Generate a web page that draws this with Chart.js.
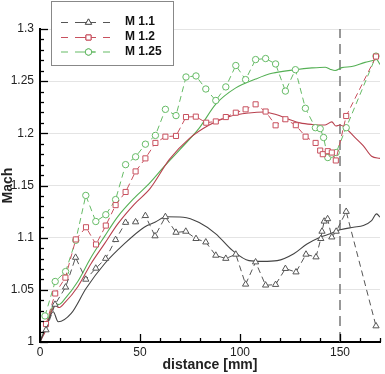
<!DOCTYPE html>
<html>
<head>
<meta charset="utf-8">
<script src="https://cdn.jsdelivr.net/npm/chart.js@4"></script>
<style>
  html, body { margin: 0; padding: 0; background: #fff; }
</style>
</head>
<body>
<canvas id="MachBox" width="385" height="374"></canvas>
<script>
        // experiment points (dashed + markers)
        const triDist = [3, 7.5, 12.8, 17.8, 22.9, 27.9, 32.8, 37.8, 42.8, 47.8, 52.7, 57.5, 62.7, 68, 72.9, 78, 82.9, 87.9, 92.9, 97.9, 102.8, 107.8, 112.8, 117.8, 122.7, 128, 133, 138, 140.4, 141, 142.1, 143.8, 145.9, 148.1, 153.1, 168];
        const triMach = [1.0115, 1.036, 1.0525, 1.081, 1.060, 1.0706, 1.080, 1.098, 1.1145, 1.115, 1.121, 1.1016, 1.120, 1.105, 1.106, 1.099, 1.0957, 1.083, 1.080, 1.084, 1.0553, 1.0766, 1.0544, 1.055, 1.0703, 1.067, 1.084, 1.0814, 1.099, 1.106, 1.1157, 1.118, 1.1005, 1.106, 1.125, 1.0153];

        const sqDist = [3, 7.6, 12.7, 17.9, 23, 28, 32.9, 37.8, 42.8, 47.8, 52.7, 57.7, 62.7, 68, 73, 77.9, 83.1, 87.9, 92.9, 97.9, 102.8, 107.8, 112.8, 117.8, 122.7, 127.9, 132.8, 137.8, 140.1, 141.4, 143.9, 145.9, 147.9, 153.1, 168];
        const sqMach = [1.0172, 1.0465, 1.0617, 1.0983, 1.110, 1.0935, 1.1116, 1.1312, 1.1438, 1.1635, 1.176, 1.1908, 1.1968, 1.1975, 1.2156, 1.216, 1.2102, 1.2114, 1.2156, 1.2198, 1.223, 1.2278, 1.2209, 1.2077, 1.2135, 1.2078, 1.1968, 1.1908, 1.1835, 1.180, 1.1829, 1.1816, 1.174, 1.2166, 1.2736];

        const cirDist = [2.5, 7.6, 12.8, 17.9, 22.9, 27.9, 32.9, 37.8, 42.8, 47.8, 52.7, 57.7, 62.7, 68, 73, 78, 82.9, 87.9, 92.9, 97.9, 102.8, 107.8, 112.8, 117.8, 122.7, 127.7, 132.7, 137.7, 140.1, 141.8, 143.9, 145.9, 148.1, 153.1, 168];
        const cirMach = [1.025, 1.058, 1.0675, 1.0975, 1.1405, 1.1155, 1.122, 1.1365, 1.170, 1.1775, 1.1896, 1.198, 1.223, 1.217, 1.254, 1.255, 1.2425, 1.2315, 1.2445, 1.265, 1.2515, 1.2707, 1.2717, 1.2665, 1.2405, 1.261, 1.224, 1.2054, 1.2045, 1.196, 1.1768, 1.180, 1.1816, 1.2054, 1.274];

        // computed curves (solid)
        const blackDist = [0, 3, 6.6, 9.1, 15.6, 23.1, 32.3, 42.1, 52.1, 57.7, 63, 71.6, 79.6, 87.9, 96.2, 104.5, 111.4, 118.6, 126.9, 133.5, 140.1, 145.1, 150.1, 156.7, 161.7, 165.8, 168.3, 170];
        const blackMach = [1.0, 1.014, 1.029, 1.0194, 1.0274, 1.0515, 1.075, 1.094, 1.110, 1.115, 1.120, 1.1196, 1.1145, 1.1037, 1.0878, 1.078, 1.0773, 1.078, 1.0846, 1.094, 1.1005, 1.1037, 1.1075, 1.110, 1.1116, 1.1164, 1.1228, 1.1196];

        const redDist = [0, 3, 5.5, 7.6, 9.5, 12.3, 18.9, 25.5, 32.2, 38.8, 47.1, 55, 64.7, 74.6, 84.6, 94.5, 104.5, 112, 118, 124.4, 130, 136, 142.6, 145.9, 148, 150, 152.6, 156.7, 161.7, 165.8, 170];
        const redMach = [1.0, 1.012, 1.028, 1.035, 1.033, 1.0375, 1.053, 1.075, 1.094, 1.113, 1.132, 1.147, 1.175, 1.195, 1.208, 1.216, 1.2195, 1.2205, 1.218, 1.2135, 1.210, 1.2085, 1.208, 1.211, 1.207, 1.208, 1.2054, 1.1975, 1.188, 1.178, 1.176];

        const greenDist = [0, 3, 5.5, 7.3, 9.5, 12.3, 18.9, 25.5, 32.2, 38.8, 47.1, 54.7, 62, 69.7, 79.6, 87.9, 97.9, 107.8, 116, 127.7, 136, 142.6, 145, 147.6, 150.9, 155.9, 162.5, 166, 168.3, 170];
        const greenMach = [1.0, 1.015, 1.03, 1.037, 1.036, 1.041, 1.058, 1.081, 1.101, 1.12, 1.138, 1.152, 1.168, 1.184, 1.205, 1.228, 1.2436, 1.252, 1.2575, 1.261, 1.2627, 1.2634, 1.2615, 1.2602, 1.263, 1.264, 1.268, 1.2695, 1.2707, 1.266];

        const shockDist = [150, 150];
        const shockMach = [1.0, 1.3];

        const xTicks = [0, 50, 100, 150];
        const yTicks = [1, 1.05, 1.1, 1.15, 1.2, 1.25, 1.3];

        const FONT = "'Liberation Sans', Arial, sans-serif";

        function pts(xs, ys) {
            return xs.map((v, i) => ({x: v, y: ys[i]}));
        }

        function dashed(label, xs, ys, color, style, r) {
            return {
                label: label,
                data: pts(xs, ys),
                borderColor: color,
                backgroundColor: '#fff',
                borderWidth: 1,
                borderDash: [6, 4],
                pointStyle: style,
                pointRadius: r,
                pointBorderWidth: 1,
                pointBackgroundColor: '#fff',
                pointBorderColor: color,
                tension: 0
            };
        }

        function solid(xs, ys, color) {
            return {
                label: '',
                data: pts(xs, ys),
                borderColor: color,
                borderWidth: 1.1,
                pointRadius: 0,
                cubicInterpolationMode: 'monotone'
            };
        }

        const MachData = {
            datasets: [
                dashed('M 1.1', triDist, triMach, '#555555', 'triangle', 3.6),
                dashed('M 1.2', sqDist, sqMach, '#c8505e', 'rect', 3.6),
                dashed('M 1.25', cirDist, cirMach, '#66bb66', 'circle', 3.2),
                solid(blackDist, blackMach, '#444444'),
                solid(redDist, redMach, '#b8404e'),
                solid(greenDist, greenMach, '#55b055'),
                {
                    label: '',
                    data: pts(shockDist, shockMach),
                    borderColor: '#777777',
                    borderWidth: 1.5,
                    borderDash: [10, 6],
                    pointRadius: 0
                }
            ]
        };

        // inside ticks + boxed legend
        const decor = {
            id: 'decor',
            afterDraw(chart) {
                const ctx = chart.ctx;
                const a = chart.chartArea;
                const xs = chart.scales.x, ys = chart.scales.y;
                ctx.save();
                ctx.strokeStyle = '#000';
                ctx.lineWidth = 1.3;
                ctx.setLineDash([]);
                for (let i = 0; i <= 17; i++) {
                    const px = Math.round(xs.getPixelForValue(i * 10)) + 0.5;
                    const len = i % 5 === 0 ? 8 : 4;
                    ctx.beginPath();
                    ctx.moveTo(px, a.bottom);
                    ctx.lineTo(px, a.bottom - len);
                    ctx.stroke();
                }
                for (let i = 0; i <= 30; i++) {
                    const py = Math.round(ys.getPixelForValue(1 + i / 100)) + 0.5;
                    const len = i % 5 === 0 ? 8 : 4;
                    ctx.beginPath();
                    ctx.moveTo(a.left, py);
                    ctx.lineTo(a.left + len, py);
                    ctx.stroke();
                }

                // legend box
                ctx.fillStyle = '#fff';
                ctx.fillRect(51, 1, 123, 65);
                ctx.strokeStyle = '#888';
                ctx.lineWidth = 1;
                ctx.strokeRect(51.5, 1.5, 122, 64);
                const rows = [22, 37, 51.5];
                ctx.font = 'bold 12px ' + FONT;
                ctx.textBaseline = 'middle';
                for (let i = 0; i < 3; i++) {
                    const ds = chart.data.datasets[i];
                    const y = rows[i];
                    ctx.strokeStyle = ds.borderColor;
                    ctx.lineWidth = 1;
                    ctx.setLineDash([7, 7]);
                    ctx.beginPath();
                    ctx.moveTo(61, y + 0.5);
                    ctx.lineTo(113, y + 0.5);
                    ctx.stroke();
                    ctx.setLineDash([]);
                    ctx.beginPath();
                    ctx.moveTo(82, y + 0.5);
                    ctx.lineTo(95, y + 0.5);
                    ctx.stroke();
                    Chart.helpers.drawPoint(ctx, {
                        pointStyle: ds.pointStyle,
                        radius: ds.pointRadius,
                        rotation: 0,
                        borderWidth: 1
                    }, 88.5, y + 0.5);
                    ctx.fillStyle = '#fff';
                    ctx.fill();
                    ctx.stroke();
                    ctx.fillStyle = '#111';
                    ctx.fillText(ds.label, 125, y);
                }
                ctx.restore();
            }
        };

        const MachConfig = {
            type: 'line',
            data: MachData,
            options: {
                responsive: false,
                animation: false,
                devicePixelRatio: 1,
                layout: { padding: { top: 29, right: 3, left: 0, bottom: 0 } },
                scales: {
                    x: {
                        type: 'linear',
                        min: 0,
                        max: 170,
                        afterBuildTicks: s => { s.ticks = xTicks.map(v => ({value: v})); },
                        afterFit: s => { s.height = 32; },
                        grid: { display: false, drawTicks: false },
                        border: { color: '#000', width: 2 },
                        ticks: { padding: 3, color: '#222', font: { family: FONT, size: 12 }, maxRotation: 0 },
                        title: {
                            display: true,
                            text: 'distance [mm]',
                            color: '#222',
                            font: { family: FONT, size: 14, weight: 'bold' },
                            padding: { top: 0, bottom: 0 }
                        }
                    },
                    y: {
                        min: 1,
                        max: 1.3,
                        afterBuildTicks: s => { s.ticks = yTicks.map(v => ({value: v})); },
                        afterFit: s => { s.width = 40; },
                        grid: { color: '#e4e4e4', drawTicks: false },
                        border: { color: '#000', width: 2 },
                        ticks: {
                            padding: 6,
                            color: '#222',
                            font: { family: FONT, size: 12 },
                            callback: v => String(+v.toFixed(2))
                        },
                        title: {
                            display: true,
                            text: 'Mach',
                            color: '#222',
                            font: { family: FONT, size: 14, weight: 'bold' },
                            padding: { top: 0, bottom: 0 }
                        }
                    }
                },
                plugins: {
                    legend: { display: false },
                    tooltip: { enabled: false }
                }
            },
            plugins: [decor]
        };

        window.onload = function() {
            const ctx = document.getElementById('MachBox').getContext('2d');
            new Chart(ctx, MachConfig);
        };
</script>
</body>
</html>
